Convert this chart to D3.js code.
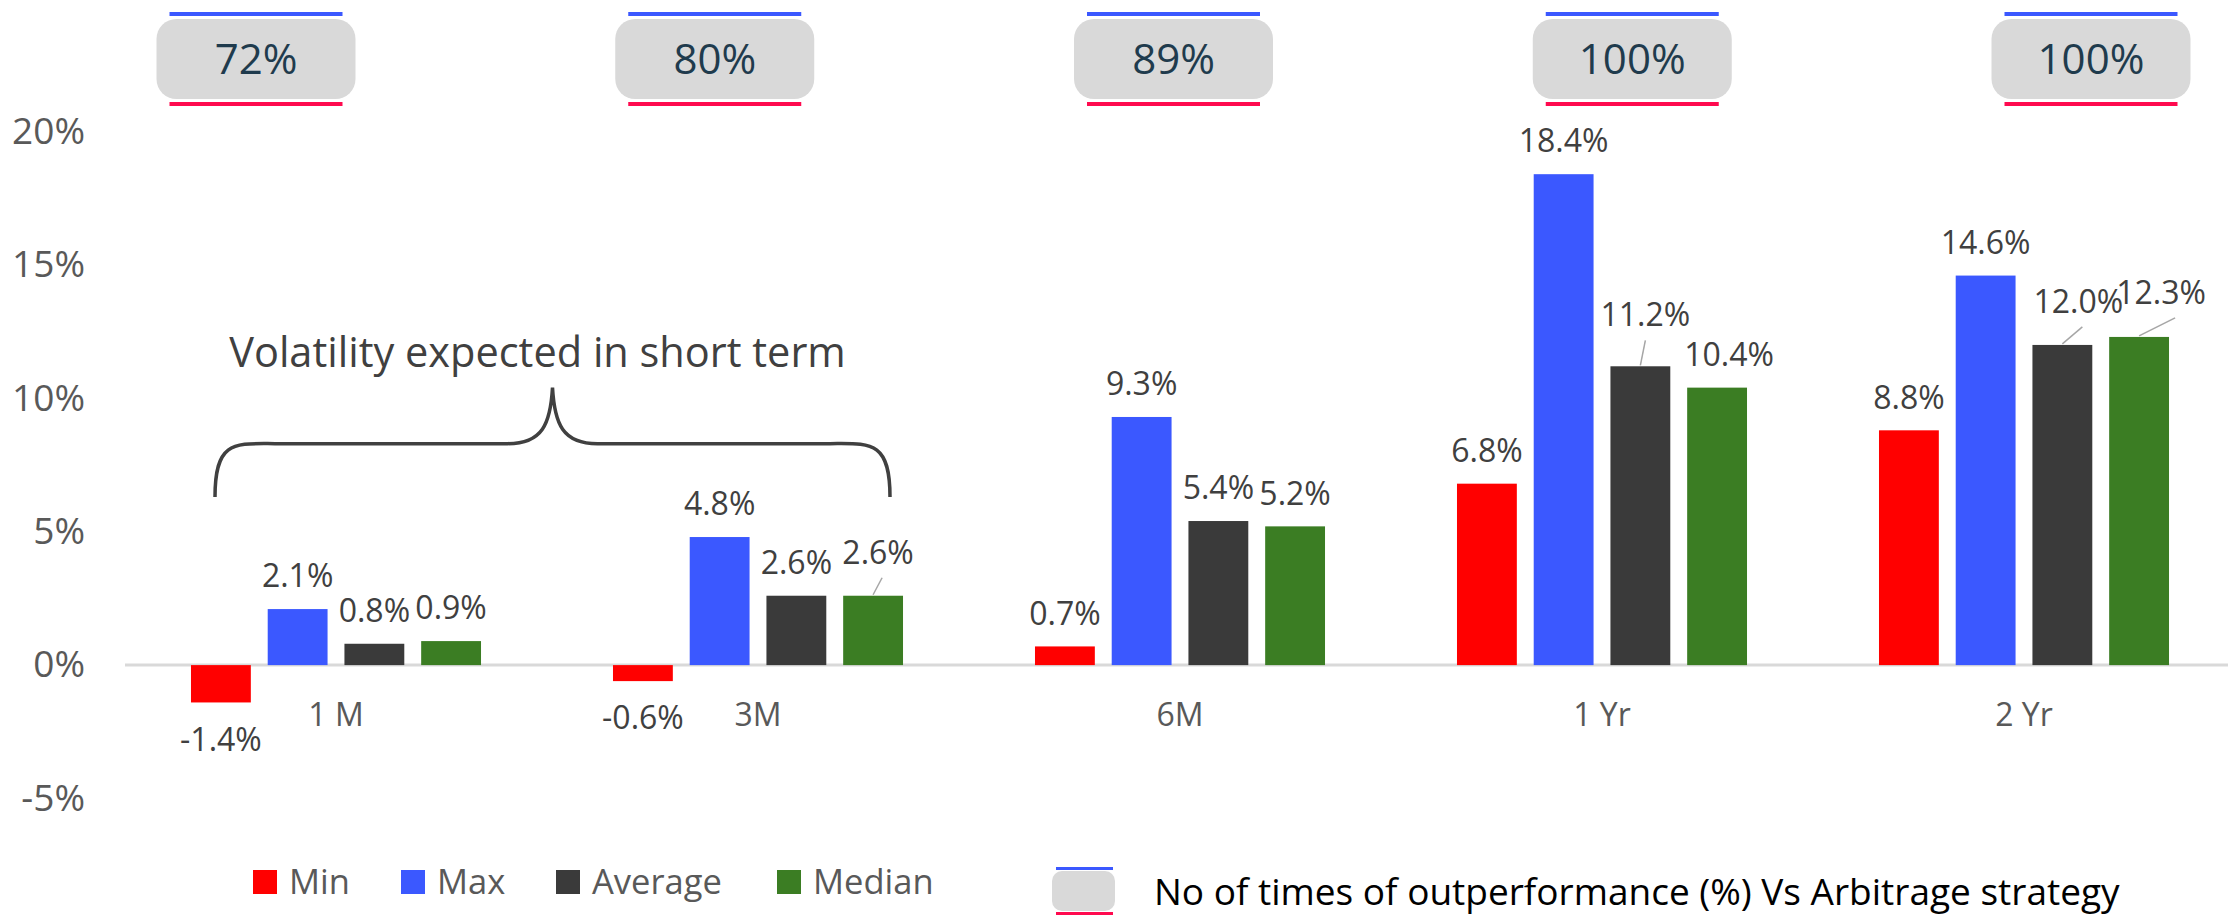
<!DOCTYPE html>
<html>
<head>
<meta charset="utf-8">
<script src="https://cdn.jsdelivr.net/npm/d3@7"></script>
<style>
  body { margin: 0; background: #fff; }
  svg { display: block; font-family: 'Open Sans', sans-serif; }
</style>
</head>
<body>
<svg id="chart" width="2228" height="916"></svg>
<script>
// data
const categories = ['1 M', '3M', '6M', '1 Yr', '2 Yr']
const series = ['Min', 'Max', 'Average', 'Median']
const minVals = [-1.4, -0.6, 0.7, 6.8, 8.8]
const maxVals = [2.1, 4.8, 9.3, 18.4, 14.6]
const avgVals = [0.8, 2.6, 5.4, 11.2, 12.0]
const medianVals = [0.9, 2.6, 5.2, 10.4, 12.3]
const outperformance = [72, 80, 89, 100, 100]
const yTicks = [-5, 0, 5, 10, 15, 20]
const seriesColors = ['#ff0000', '#3b58ff', '#3a3a3a', '#3b7d23']
const annotation = 'Volatility expected in short term'
const boxLegendText = 'No of times of outperformance (%) Vs Arbitrage strategy'

// labels that were pushed aside in the original (with leader lines)
const labelNudge = {
  '3M|Median': { dx: 5, dy: -10, leader: true, ex: 4 },
  '1 Yr|Average': { dx: 5, dy: -18, leader: true, ex: 0 },
  '1 Yr|Median': { dx: 12, dy: 0 },
  '2 Yr|Average': { dx: 16, dy: -10, leader: true, ex: 4 },
  '2 Yr|Median': { dx: 22, dy: -11, leader: true, ex: 14 }
}

const svg = d3.select('#chart')
const width = 2228

const valuesBySeries = [minVals, maxVals, avgVals, medianVals]
const data = categories.map((c, i) => ({
  cat: c,
  bars: series.map((s, j) => ({ cat: c, series: s, value: valuesBySeries[j][i], color: seriesColors[j] }))
}))

const x0 = d3.scaleBand().domain(categories).range([125, 2235]).padding(0)
const x1 = d3.scaleBand().domain(series).range([0, x0.bandwidth()])
  .paddingInner(0.22).paddingOuter(0.86)
const y = d3.scaleLinear().domain([-5, 20]).range([798.5, 131.5])

// y axis (labels only)
const yAxis = svg.append('g')
  .attr('transform', 'translate(85,0)')
  .call(d3.axisLeft(y).tickValues(yTicks).tickFormat(d => d + '%').tickSize(0).tickPadding(0))
yAxis.select('.domain').remove()
yAxis.selectAll('text')
  .attr('font-family', "'Open Sans', sans-serif")
  .attr('font-size', 37)
  .attr('fill', '#595959')

// zero line
svg.append('line')
  .attr('x1', 125).attr('x2', width)
  .attr('y1', y(0)).attr('y2', y(0))
  .attr('stroke', '#d9d9d9').attr('stroke-width', 3)

// bars
const groups = svg.selectAll('.group')
  .data(data)
  .enter().append('g')
  .attr('class', 'group')
  .attr('transform', d => `translate(${x0(d.cat)},0)`)

groups.selectAll('rect')
  .data(d => d.bars)
  .enter().append('rect')
  .attr('x', d => x1(d.series))
  .attr('width', x1.bandwidth())
  .attr('y', d => y(Math.max(0, d.value)))
  .attr('height', d => Math.abs(y(d.value) - y(0)))
  .attr('fill', d => d.color)

// data labels (plain hyphen for negatives, like the original)
const fmt = v => v.toFixed(1) + '%'
groups.each(function (g) {
  const grp = d3.select(this)
  g.bars.forEach(b => {
    const n = labelNudge[b.cat + '|' + b.series] || { dx: 0, dy: 0 }
    const cx = x1(b.series) + x1.bandwidth() / 2
    const lx = cx + n.dx
    const ly = b.value >= 0 ? y(b.value) - 33 + n.dy : y(b.value) + 37
    if (n.leader) {
      grp.append('line')
        .attr('x1', cx).attr('y1', y(b.value) - 1)
        .attr('x2', lx + n.ex).attr('y2', ly + 25)
        .attr('stroke', '#a6a6a6').attr('stroke-width', 1.5)
    }
    grp.append('text')
      .attr('x', lx).attr('y', ly)
      .attr('dy', '0.35em')
      .attr('text-anchor', 'middle')
      .attr('font-size', 32)
      .attr('fill', '#404040')
      .text(fmt(b.value))
  })
})

// category labels
const xAxis = svg.append('g')
  .attr('transform', `translate(0,${y(0)})`)
  .call(d3.axisBottom(x0).tickSize(0).tickPadding(0))
xAxis.select('.domain').remove()
xAxis.selectAll('text')
  .attr('y', 50).attr('dy', '0.35em')
  .attr('font-family', "'Open Sans', sans-serif")
  .attr('font-size', 32)
  .attr('fill', '#595959')

// brace over 1 M and 3M
const bl = x0(categories[0]) + 90
const br = x0(categories[1]) + 343
const bm = (bl + br) / 2
const yEnd = y(6.3), yBar = y(8.3), yPeak = y(10.4)
const brace = d3.path()
brace.moveTo(bl, yEnd)
brace.bezierCurveTo(bl, yBar - 4, bl + 20, yBar, bl + 60, yBar)
brace.lineTo(bm - 45, yBar)
brace.bezierCurveTo(bm - 10, yBar, bm - 2, yBar - 20, bm, yPeak)
brace.bezierCurveTo(bm + 2, yBar - 20, bm + 10, yBar, bm + 45, yBar)
brace.lineTo(br - 60, yBar)
brace.bezierCurveTo(br - 20, yBar, br, yBar - 4, br, yEnd)
svg.append('path')
  .attr('d', brace.toString())
  .attr('fill', 'none')
  .attr('stroke', '#404040')
  .attr('stroke-width', 3.5)

svg.append('text')
  .attr('x', bm - 15).attr('y', y(11.7))
  .attr('dy', '0.35em')
  .attr('text-anchor', 'middle')
  .attr('font-size', 41.5)
  .attr('fill', '#404040')
  .text(annotation)

// outperformance boxes along the top
const bx = d3.scalePoint().domain(categories).range([256, 2091])
const boxW = 199, boxH = 80
const boxes = svg.selectAll('.obox')
  .data(categories.map((c, i) => ({ cat: c, pct: outperformance[i] })))
  .enter().append('g')
  .attr('class', 'obox')
  .attr('transform', d => `translate(${bx(d.cat) - boxW / 2},19)`)
boxes.append('rect')
  .attr('width', boxW).attr('height', boxH)
  .attr('rx', 20)
  .attr('fill', '#d9d9d9')
boxes.append('rect')
  .attr('x', 13).attr('y', -7).attr('width', boxW - 26).attr('height', 4)
  .attr('fill', '#3b58ff')
boxes.append('rect')
  .attr('x', 13).attr('y', boxH + 3).attr('width', boxW - 26).attr('height', 4)
  .attr('fill', '#ff0a4f')
boxes.append('text')
  .attr('x', boxW / 2).attr('y', boxH / 2)
  .attr('dy', '0.35em')
  .attr('text-anchor', 'middle')
  .attr('font-size', 42)
  .attr('fill', '#1f3b4d')
  .text(d => d.pct + '%')

// series legend
const legendX = [253, 401, 556, 777]
const legend = svg.selectAll('.legend')
  .data(series.map((s, i) => ({ name: s, color: seriesColors[i], x: legendX[i] })))
  .enter().append('g')
  .attr('class', 'legend')
  .attr('transform', d => `translate(${d.x},870)`)
legend.append('rect').attr('width', 24).attr('height', 24).attr('fill', d => d.color)
legend.append('text')
  .attr('x', 36).attr('y', 12).attr('dy', '0.35em')
  .attr('font-size', 34.5)
  .attr('fill', '#595959')
  .text(d => d.name)

// box legend
const lg = svg.append('g').attr('transform', 'translate(1052,871)')
lg.append('rect').attr('width', 63).attr('height', 40).attr('rx', 10).attr('fill', '#d9d9d9')
lg.append('rect').attr('x', 4).attr('y', -4).attr('width', 57).attr('height', 3).attr('fill', '#3b58ff')
lg.append('rect').attr('x', 4).attr('y', 41).attr('width', 57).attr('height', 3).attr('fill', '#ff0a4f')
lg.append('text')
  .attr('x', 102).attr('y', 21).attr('dy', '0.35em')
  .attr('font-size', 37)
  .attr('fill', '#000')
  .text(boxLegendText)
</script>
</body>
</html>
